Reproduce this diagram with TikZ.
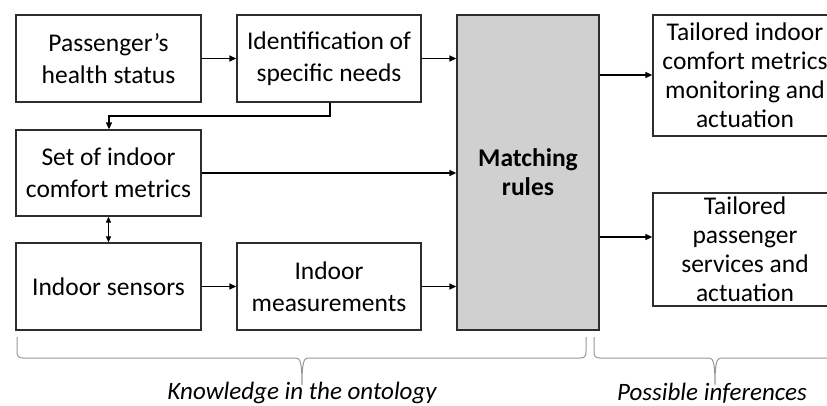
\documentclass[tikz,border=0pt]{standalone}
\usepackage{fontspec}
\setmainfont{Carlito}
\usetikzlibrary{arrows.meta}
\definecolor{boxline}{RGB}{45,45,45}
\definecolor{rulefill}{RGB}{208,208,208}
\definecolor{bracecol}{RGB}{150,150,150}
\begin{document}
\begin{tikzpicture}[x=1pt,y=-1pt,
  box/.style={draw=boxline,line width=1.3pt,fill=white,align=center,inner sep=2pt,
    font=\fontsize{25.5}{32}\selectfont},
  conn/.style={line width=1.4pt,draw=black,-{Triangle[length=7pt,width=6pt]}},
  dconn/.style={line width=1.2pt,draw=black,{Triangle[length=6pt,width=5pt]}-{Triangle[length=6pt,width=5pt]}},
  bracestyle/.style={draw=bracecol,line width=1pt},
  lab/.style={font=\fontsize{25}{30}\selectfont\itshape}]
\useasboundingbox (0,0) rectangle (827,405);
% left column
\node[box,minimum width=185pt,minimum height=87pt] (p) at (108.5,58.5) {Passenger’s\\health status};
\node[box,minimum width=185pt,minimum height=86pt] (s) at (108.5,173) {Set of indoor\\comfort metrics};
\node[box,minimum width=185pt,minimum height=87pt] (is) at (108.5,286.5) {Indoor sensors};
% middle column
\node[box,minimum width=184pt,minimum height=87pt] (id) at (329,58.5) {Identification of\\specific needs};
\node[box,minimum width=184pt,minimum height=87pt] (im) at (329,286.5) {Indoor\\measurements};
% matching rules
\node[box,fill=rulefill,minimum width=142pt,minimum height=315pt,font=\fontsize{25.5}{29}\selectfont\bfseries] (m) at (528,172.5) {Matching\\rules};
% right column
\node[box,minimum width=184pt,minimum height=121pt,font=\fontsize{25.5}{29}\selectfont] (t1) at (745,75.5) {Tailored indoor\\comfort metrics\\monitoring and\\actuation};
\node[box,minimum width=184pt,minimum height=113pt,font=\fontsize{25.5}{29}\selectfont] (t2) at (745,249.5) {Tailored\\passenger\\services and\\actuation};
% connectors
\draw[conn] (p.east) -- (id.west);
\draw[conn] (id.east) -- (m.west |- id.east);
\draw[conn] (s.east) -- (m.west |- s.east);
\draw[conn] (is.east) -- (im.west);
\draw[conn] (im.east) -- (m.west |- im.east);
\coordinate (elbow1) at (330,116);
\coordinate (elbow2) at (109,116);
\draw[conn] (id.south -| elbow1) -- (elbow1) -- (elbow2) -- (s.north -| elbow2);
\draw[dconn] (s.south) -- (is.north);
\coordinate (m1) at (599,75);
\coordinate (m2) at (599,237);
\draw[conn] (m.east |- m1) -- (t1.west |- m1);
\draw[conn] (m.east |- m2) -- (t2.west |- m2);
% braces
\draw[bracestyle] (17,337) -- (17,351) .. controls (17,356) and (18,358) .. (23,358)
  -- (296,358) .. controls (300,358) and (302,362) .. (302,385)
  .. controls (302,362) and (304,358) .. (308,358)
  -- (580,358) .. controls (585,358) and (586,356) .. (586,351) -- (586,337);
\draw[bracestyle] (594,337) -- (594,351) .. controls (594,356) and (595,358) .. (600,358)
  -- (709,358) .. controls (713,358) and (715,362) .. (715,385)
  .. controls (715,362) and (717,358) .. (721,358) -- (830,358);
\node[lab] (k) at (302,393) {Knowledge in the ontology};
\node[lab] (pi) at (712,393) {Possible inferences};
\end{tikzpicture}
\end{document}
